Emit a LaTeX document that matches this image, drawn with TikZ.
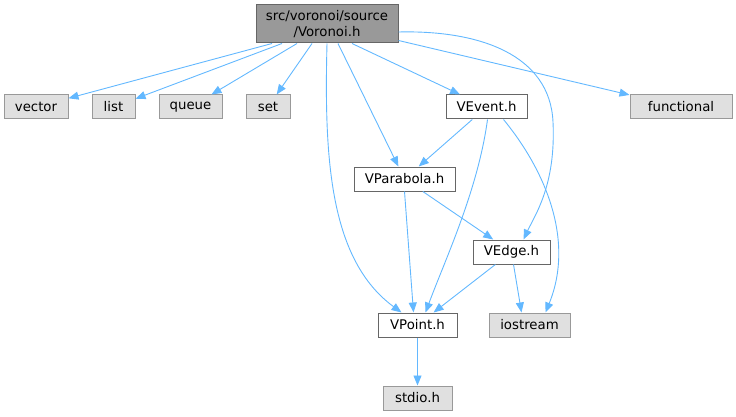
\documentclass[tikz,border=0pt]{standalone}
\usepackage{fontspec}
\setmainfont{DejaVu Sans}
\usetikzlibrary{arrows.meta}
\definecolor{edgec}{HTML}{63B8FF}
\definecolor{extfill}{HTML}{E0E0E0}
\definecolor{extdraw}{HTML}{999999}
\definecolor{intdraw}{HTML}{666666}
\definecolor{mainfill}{HTML}{999999}
\begin{document}
\begin{tikzpicture}[x=1pt,y=-1pt,
  box/.style={rectangle,inner sep=0pt,minimum height=24pt,line width=1pt,
    font=\fontsize{13.3}{15.5}\selectfont,text=black},
  ext/.style={box,draw=extdraw,fill=extfill},
  int/.style={box,draw=intdraw,fill=white},
  mainbox/.style={box,draw=intdraw,fill=mainfill,align=center,minimum height=38pt},
  dep/.style={draw=edgec,line width=0.9pt,-{Triangle[length=10pt,width=8pt]}}
]
\useasboundingbox (0,0) rectangle (736,417);
\node[mainbox,minimum width=142pt] (voronoi) at (327,24) {src/voronoi/source\\/Voronoi.h};
\node[ext,minimum width=64pt] (vector) at (36,107) {vector};
\node[ext,minimum width=43pt] (list) at (113.5,107) {list};
\node[ext,minimum width=63pt] (queue) at (190.5,107) {queue};
\node[ext,minimum width=44pt] (set) at (268,107) {set};
\node[int,minimum width=81pt] (vevent) at (486.5,107) {VEvent.h};
\node[ext,minimum width=102pt] (functional) at (681,107) {functional};
\node[int,minimum width=101pt] (vparabola) at (404.5,179) {VParabola.h};
\node[int,minimum width=77pt] (vedge) at (511.5,252) {VEdge.h};
\node[int,minimum width=79pt] (vpoint) at (417.5,325) {VPoint.h};
\node[ext,minimum width=81pt] (iostream) at (529.5,325) {iostream};
\node[ext,minimum width=69pt] (stdio) at (417.5,398) {stdio.h};

\draw[dep] ([xshift=-55pt]voronoi.south) -- (vector);
\draw[dep] ([xshift=-45pt]voronoi.south) -- (list);
\draw[dep] ([xshift=-30pt]voronoi.south) -- (queue);
\draw[dep] ([xshift=-15pt]voronoi.south) -- (set);
\draw[dep] ([xshift=0pt]voronoi.south) .. controls (324,160) and (330,260) .. ([xshift=-16pt]vpoint.north);
\draw[dep] ([xshift=11pt]voronoi.south) -- (vparabola);
\draw[dep] ([xshift=25pt]voronoi.south) -- (vevent);
\draw[dep] ([yshift=-8pt]voronoi.east) .. controls (480,30) and (550,55) .. (553,122)
  .. controls (556,185) and (535,215) .. ([xshift=12pt]vedge.north);
\draw[dep] ([yshift=3pt]voronoi.south east) -- (functional);
\draw[dep] (vevent) -- (vparabola);
\draw[dep] ([xshift=1pt]vevent.south) .. controls (478,190) and (445,260) .. ([xshift=8pt]vpoint.north);
\draw[dep] ([xshift=17pt]vevent.south) .. controls (545,170) and (575,240) .. ([xshift=16pt]iostream.north);
\draw[dep] (vparabola) -- (vedge);
\draw[dep] ([xshift=0pt]vparabola.south) -- ([xshift=-4pt]vpoint.north);
\draw[dep] (vedge) -- (vpoint);
\draw[dep] ([xshift=2pt]vedge.south) -- ([xshift=-8pt]iostream.north);
\draw[dep] (vpoint) -- (stdio);
\end{tikzpicture}
\end{document}
